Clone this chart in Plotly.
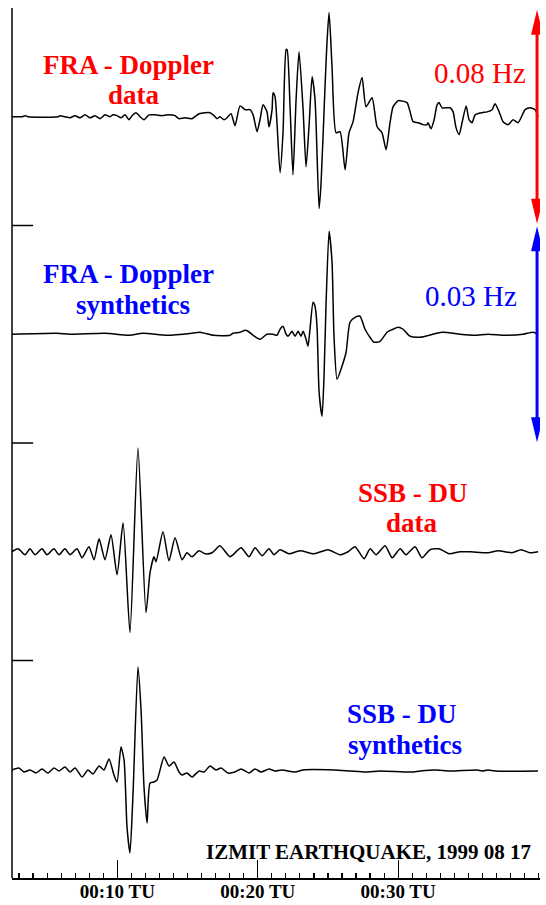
import plotly.graph_objects as go

# ---------------- data ----------------
# time in minutes after 00:00 TU
# FRA - Doppler data (mHz)
t_fra_data = [2.50, 3.21, 3.43, 3.64, 5.78, 5.92, 6.27, 6.63, 6.99, 7.34,
              7.70, 8.06, 8.41, 8.77, 9.12, 9.48, 9.69, 9.98, 10.26, 10.55,
              10.83, 11.05, 11.33, 11.62, 11.90, 12.26, 12.69, 13.18, 13.61, 14.11,
              14.39, 14.82, 15.32, 15.82, 16.25, 16.60, 16.89, 17.10, 17.31, 17.60,
              17.81, 18.10, 18.38, 18.74, 19.10, 19.45, 19.67, 19.95, 20.16, 20.38,
              20.66, 20.80, 21.02, 21.09, 21.23, 21.37, 21.59, 21.80, 22.02, 22.09,
              22.30, 22.51, 22.73, 22.94, 23.23, 23.44, 23.65, 23.87, 24.08, 24.37,
              24.51, 24.79, 24.93, 25.08, 25.29, 25.58, 25.86, 26.22, 26.50, 26.79,
              27.14, 27.43, 27.71, 28.14, 28.50, 28.85, 29.14, 29.42, 29.64, 29.99,
              30.14, 30.63, 30.85, 31.06, 31.42, 31.77, 32.06, 32.13, 32.34, 32.56,
              32.77, 32.91, 33.13, 33.70, 33.91, 34.12, 34.34, 34.55, 34.84, 35.05,
              35.26, 35.48, 35.98, 36.33, 36.69, 36.90, 37.19, 37.47, 37.83, 38.18,
              38.54, 39.04, 39.39, 39.75, 39.96]
v_fra_data = [0, 0, 0.4, 0, 0, 0.4, 0, -0.4, 0.4, -0.4,
              0.7, -0.4, 0.4, -0.7, 0.7, 0, 0.7, 0.4, -0.4, 0.7,
              -1.1, 0.4, 1.5, 0, -1.1, 0.7, 0.7, 0.4, 0.7, 0.4,
              -0.7, -0.4, -0.7, 1.1, 1.5, 1.5, 0.4, -0.7, 0, -1.1,
              -0.4, 1.1, -3.3, 4.0, 2.6, 2.6, 0.7, -5.5, -1.1, 4.4,
              1.8, -3.7, 2.6, 8.8, 7.4, -2.2, -20.6, -5.9, 24.7, 24.7,
              3.7, -21.3, 6.3, 23.9, 2.6, -18.4, -3.7, 14.7, 6.3, -33.8,
              -24.3, 11.0, 27.2, 38.3, 18.4, -5.9, -5.5, -19.5, -5.9, -1.8,
              8.8, 14.4, 3.7, 7.0, -3.7, -5.9, -12.1, -2.2, 3.7, 5.9,
              5.9, 5.2, 1.8, -1.8, -2.2, -2.9, -2.9, -2.2, -4.4, -1.1,
              4.4, 5.2, 3.3, 3.3, 1.8, -4.0, -6.6, -2.2, 4.0, -1.1,
              -2.2, 0.7, 1.5, 1.8, 2.6, 4.8, 1.8, -1.8, -2.9, -1.1,
              -2.2, 2.6, 3.3, 2.6, 0]

# FRA - Doppler synthetics (mHz)
t_fra_syn = [2.50, 5.71, 6.63, 9.12, 10.83, 11.83, 13.54, 15.32, 15.89, 16.82,
             18.03, 18.24, 18.74, 19.10, 19.31, 19.67, 20.16, 20.66, 21.09, 21.37,
             21.59, 21.80, 22.02, 22.16, 22.44, 22.66, 22.87, 23.08, 23.23, 23.44,
             23.58, 23.72, 23.94, 24.08, 24.22, 24.37, 24.58, 24.72, 24.86, 25.08,
             25.29, 25.43, 25.65, 26.00, 26.29, 26.57, 26.93, 27.28, 27.64, 27.99,
             28.28, 28.71, 29.21, 29.64, 29.99, 30.35, 30.85, 31.56, 33.13, 34.41,
             35.41, 36.40, 37.61, 38.90, 39.61, 39.96]
v_fra_syn = [0, 0.14, 0, 0.14, -0.14, 0.14, -0.14, 0.14, 0.28, -0.14,
             -0.14, 0.14, 0.28, 0.55, 0.41, -0.14, -0.69, 0, 0, -0.14,
             0.69, 1.10, 0, -0.28, 0.41, -0.28, 0.41, -0.28, 0.41, -0.69,
             -1.65, 0.69, 4.41, 3.86, 1.10, -8.0, -11.3, -5.79, 3.86, 14.2,
             9.93, -0.28, -6.21, -4.41, -2.48, 1.65, 2.34, 2.48, 0.69, -0.41,
             -1.10, -0.97, 0.28, 0.69, 0.97, 0.69, -0.28, -0.41, 0.28, 0,
             -0.14, 0, -0.14, 0, 0.28, 0]

# SSB - DU data (arbitrary units)
t_ssb_data = [2.50, 2.93, 3.43, 3.78, 4.14, 4.64, 4.99, 5.49, 5.85, 6.27,
              6.63, 7.13, 7.49, 7.98, 8.34, 8.70, 9.12, 9.55, 9.98, 10.41,
              10.90, 11.47, 12.04, 12.33, 12.61, 12.76, 13.25, 13.68, 14.11, 14.61,
              14.96, 15.32, 15.82, 16.25, 16.75, 17.31, 18.03, 18.81, 19.38, 19.81,
              20.31, 20.80, 21.16, 21.59, 22.23, 23.01, 24.01, 25.01, 25.86, 26.43,
              26.93, 27.57, 28.00, 28.43, 29.07, 29.57, 30.14, 30.56, 31.20, 31.70,
              32.27, 32.91, 33.63, 34.41, 35.12, 36.40, 37.12, 38.11, 38.75, 39.39,
              39.96]
v_ssb_data = [0, 3, -3, 3, -3, 3, -3, 3, -3, 3,
              -3, 3, -6, 5, -8, 13, -8, 17, -23, 29,
              -81, 104, -61, -21, -5, -10, 20, -9, 14, -8,
              -1, -5, 1, -2, -1, 6, -5, 4, -5, 4,
              -4, 3, -3, 2, -2, 1, -2, 2, -3, 0,
              5, -7, 3, -3, 6, -6, 3, -3, 5, -6,
              2, 3, -2, 0, 0, -1, 1, -1, 2, -1,
              0]

# SSB - DU synthetics (arbitrary units)
t_ssb_syn = [2.50, 3.00, 3.35, 3.78, 4.21, 4.64, 5.06, 5.49, 5.85, 6.27,
             6.63, 6.99, 7.49, 7.91, 8.27, 8.70, 9.05, 9.41, 9.76, 9.98,
             10.26, 10.48, 10.69, 10.90, 11.12, 11.47, 11.69, 11.90, 12.12, 12.33,
             12.61, 12.83, 13.33, 13.68, 14.04, 14.39, 14.61, 14.96, 15.32, 15.82,
             16.18, 16.60, 17.03, 17.39, 17.88, 18.38, 18.81, 19.38, 19.81, 20.24,
             20.80, 21.23, 21.73, 22.66, 23.23, 25.43, 26.57, 27.71, 28.71, 30.92,
             31.56, 32.63, 33.70, 35.62, 35.98, 36.40, 36.90, 39.96]
v_ssb_syn = [1, 3, -1, 1, -2, 2, -2, 3, 0, 4,
             -1, 3, -6, 1, -3, 5, 1, 12, -4, -11,
             24, 11, -56, -82, -22, 104, 61, -16, -52, -12,
             -11, -9, 14, 5, 9, -1, -4, -2, -6, 0,
             -1, 5, 1, 3, -2, -1, 2, -2, 2, -1,
             2, 0, 1, -1, 1, 1, 0, -1, 0, -1,
             0, 1, 0, 1, 0, 1, 0, 0]

tick_vals = [10, 20, 30]
tick_text = ["00:10 TU", "00:20 TU", "00:30 TU"]

scale_red_label = "0.08 Hz"    # full height of the FRA data panel (+-40 mHz)
scale_blue_label = "0.03 Hz"   # full height of the FRA synthetics panel (+-15 mHz)

RED = "#ff0000"
BLUE = "#0000ff"
SERIF = "Liberation Serif"

fig = go.Figure()
series = [(t_fra_data, v_fra_data, "y"), (t_fra_syn, v_fra_syn, "y2"),
          (t_ssb_data, v_ssb_data, "y3"), (t_ssb_syn, v_ssb_syn, "y4")]
for tx, vy, ya in series:
    fig.add_trace(go.Scatter(x=tx, y=vy, xaxis="x", yaxis=ya, mode="lines",
                             line=dict(color="black", width=1.5, shape="spline",
                                       smoothing=0.6),
                             showlegend=False, hoverinfo="skip"))

hidden = dict(visible=False, showgrid=False, zeroline=False, fixedrange=True,
              automargin=False)
fig.update_layout(
    width=546, height=905,
    margin=dict(l=12, r=6, t=8, b=27, autoexpand=False),
    paper_bgcolor="white", plot_bgcolor="white",
    xaxis=dict(range=[2.5, 40.1], anchor="y4", showline=True, linecolor="black",
               linewidth=1.5, showgrid=False, zeroline=False, fixedrange=True,
               automargin=False,
               ticks="inside", ticklen=18, tickwidth=1.2, tickcolor="black",
               tickvals=tick_vals, ticktext=tick_text, ticklabelstandoff=-4,
               tickfont=dict(family=SERIF, size=19, color="black", weight="bold"),
               minor=dict(dtick=1, tick0=0, ticks="inside", ticklen=5,
                          tickwidth=1.2, tickcolor="black", showgrid=False)),
    yaxis=dict(domain=[0.75, 1.0], range=[-40, 40], **hidden),
    yaxis2=dict(domain=[0.5, 0.75], range=[-15, 15], **hidden),
    yaxis3=dict(domain=[0.25, 0.5], range=[-109, 109], **hidden),
    yaxis4=dict(domain=[0.0, 0.25], range=[-107, 110.5], **hidden),
)

shapes = []
# left vertical axis and separators
shapes.append(dict(type="line", xref="paper", yref="paper", x0=0, x1=0, y0=0, y1=1,
                   line=dict(color="black", width=1.5)))
for yy in [0.25, 0.5, 0.75]:
    shapes.append(dict(type="line", xref="paper", yref="paper", x0=0, x1=0.04,
                       y0=yy, y1=yy, line=dict(color="black", width=1.5)))

# double arrows giving the frequency scale
def double_arrow(yref, ylim, body, color):
    xa = 39.89
    out = [dict(type="line", xref="x", yref=yref, x0=xa, x1=xa, y0=-body, y1=body,
                line=dict(color=color, width=3))]
    out.append(dict(type="path", xref="x", yref=yref, xsizemode="pixel", ysizemode="pixel",
                    xanchor=xa, yanchor=ylim, path="M0,0 L-6,-25 L6,-25 Z",
                    fillcolor=color, line=dict(width=0)))
    out.append(dict(type="path", xref="x", yref=yref, xsizemode="pixel", ysizemode="pixel",
                    xanchor=xa, yanchor=-ylim, path="M0,0 L-6,25 L6,25 Z",
                    fillcolor=color, line=dict(width=0)))
    return out

shapes += double_arrow("y", 39.4, 32, RED)
shapes += double_arrow("y2", 14.9, 12, BLUE)
fig.update_layout(shapes=shapes)

def label(text, x, y, color, size=27, bold=True, xanchor="center"):
    return dict(text=text, xref="paper", yref="paper", x=x, y=y, showarrow=False,
                xanchor=xanchor, yanchor="middle", align="center",
                font=dict(family=SERIF, size=size, color=color,
                          weight="bold" if bold else "normal"))

annotations = [
    label("FRA - Doppler", 0.2197, 0.9345, RED),
    label("data", 0.2311, 0.9000, RED),
    label("FRA - Doppler", 0.2197, 0.6943, BLUE),
    label("synthetics", 0.2301, 0.6586, BLUE),
    label("SSB - DU", 0.7595, 0.4425, RED),
    label("data", 0.7585, 0.4080, RED),
    label("SSB - DU", 0.7377, 0.1885, BLUE),
    label("synthetics", 0.7443, 0.1529, BLUE),
    label(scale_red_label, 0.886, 0.9253, RED, size=29, bold=False),
    label(scale_blue_label, 0.869, 0.669, BLUE, size=29, bold=False),
    label("IZMIT EARTHQUAKE, 1999 08 17", 0.9867, 0.0299, "black", size=21,
          xanchor="right"),
]
fig.update_layout(annotations=annotations)

fig.write_html("out.html",
               config={"displayModeBar": False, "staticPlot": True},
               post_script="document.body.style.margin='0px';"
                           "document.body.style.overflow='hidden';")
